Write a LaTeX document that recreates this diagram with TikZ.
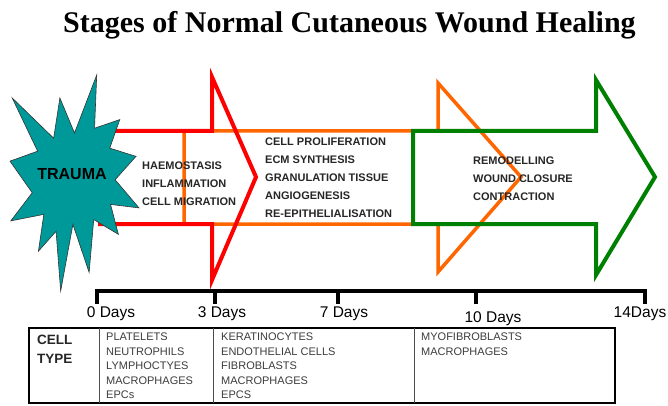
\documentclass[tikz,border=0pt]{standalone}
\usepackage{fontspec}
\setmainfont{Liberation Sans}
\newfontfamily\titlefont{Liberation Serif}
\definecolor{redarr}{RGB}{255,0,0}
\definecolor{orangearr}{RGB}{255,102,0}
\definecolor{greenarr}{RGB}{0,128,0}
\definecolor{teal}{RGB}{0,153,153}
\definecolor{txtgray}{RGB}{60,60,60}
\begin{document}
\begin{tikzpicture}[x=1pt,y=-1pt,
  arrowline/.style={line width=4pt, line join=miter},
  stagetext/.style={inner sep=0pt, align=left, anchor=west, text=black!85,
    font=\bfseries\fontsize{11}{18}\selectfont},
  celltext/.style={inner sep=0pt, align=left, anchor=north west, text=txtgray,
    font=\fontsize{11}{14.5}\selectfont},
  daylabel/.style={inner sep=0pt, anchor=base, font=\fontsize{15.5}{18}\selectfont},
  timeline/.style={line width=4pt, line cap=rect, line join=miter}]
\useasboundingbox (0,0) rectangle (668,406);

% title
\node[inner sep=0pt, anchor=base] (title) at (349.5,33)
  {\titlefont\bfseries\fontsize{30}{36}\selectfont Stages of Normal Cutaneous Wound Healing};

% orange arrow (proliferation)
\draw[arrowline, orangearr, line width=3.5pt]
  (184,131) -- (438,131) -- (438,83) -- (521,177) -- (438,272) -- (438,224) -- (184,224) -- cycle;
% green arrow (remodelling)
\draw[arrowline, greenarr]
  (413,131) -- (596,131) -- (596,80) -- (655,177) -- (596,275) -- (596,224) -- (413,224) -- cycle;
% red arrow (inflammation)
\draw[arrowline, redarr]
  (100,131) -- (212,131) -- (212,77) -- (256,177) -- (212,280) -- (212,224) -- (100,224) -- cycle;

% star (explosion)
\begin{scope}[shift={(10,75)}, xscale=0.5972]
\draw[fill=teal, draw=black!80, line width=0.6pt, line join=miter]
  (108,58) -- (83.52,22.95) -- (73.12,63.2) -- (3.7,22.95) -- (46.27,76.17) -- (0,86.15)
  -- (37.22,117.75) -- (1.35,145.87) -- (56.67,139.37) -- (47.62,176.17) -- (77.15,156.27)
  -- (84.85,216) -- (105.32,149.35) -- (132.47,197.37) -- (140.2,144.57) -- (181.45,159.35)
  -- (168.37,129.42) -- (216,132.9) -- (176.07,104.75) -- (210.97,81.37) -- (167.02,73.15)
  -- (183.8,44.57) -- (141.55,53.25) -- (145.22,0) -- cycle;
\end{scope}
\node[inner sep=0pt, font=\bfseries\fontsize{16}{18}\selectfont] (trauma) at (72,174) {TRAUMA};

% stage texts
\node[stagetext] (inflam) at (142,184) {HAEMOSTASIS\\INFLAMMATION\\CELL MIGRATION};
\node[stagetext] (prolif) at (265,178) {CELL PROLIFERATION\\ECM SYNTHESIS\\GRANULATION TISSUE\\ANGIOGENESIS\\RE-EPITHELIALISATION};
\node[stagetext] (remod) at (473,178.5) {REMODELLING\\WOUND CLOSURE\\CONTRACTION};

% timeline
\coordinate (t0) at (97,291);
\coordinate (t3) at (215,291);
\coordinate (t7) at (338,291);
\coordinate (t10) at (476,291);
\coordinate (t14) at (645,291);
\coordinate (b0) at (97,302);
\coordinate (b3) at (215,302);
\coordinate (b7) at (338,302);
\coordinate (b10) at (476,302);
\coordinate (b14) at (645,302);
\draw[timeline] (b0) -- (t0) -- (t14) -- (b14);
\draw[timeline] (t3) -- (b3);
\draw[timeline] (t7) -- (b7);
\draw[timeline] (t10) -- (b10);

\node[daylabel] (d0) at (111,317) {0 Days};
\node[daylabel] (d3) at (222,317) {3 Days};
\node[daylabel] (d7) at (344,317) {7 Days};
\node[daylabel] (d10) at (493,322) {10 Days};
\node[daylabel] (d14) at (640,317) {14Days};

% table
\draw[line width=2pt] (29,328) rectangle (615,403);
\draw[line width=1pt, black!70] (99,328) -- (99,403);
\draw[line width=1pt, black!70] (213,328) -- (213,403);
\draw[line width=1pt, black!70] (414,328) -- (414,403);

\node[inner sep=0pt, anchor=north west, align=left, text=black!85,
  font=\bfseries\fontsize{13.5}{19}\selectfont] (celltype) at (37,335) {CELL\\TYPE};
\node[celltext] (col1) at (106,333) {PLATELETS\\NEUTROPHILS\\LYMPHOCTYES\\MACROPHAGES\\EPCs};
\node[celltext] (col2) at (221,333) {KERATINOCYTES\\ENDOTHELIAL CELLS\\FIBROBLASTS\\MACROPHAGES\\EPCS};
\node[celltext] (col3) at (421,333) {MYOFIBROBLASTS\\MACROPHAGES};
\end{tikzpicture}
\end{document}
